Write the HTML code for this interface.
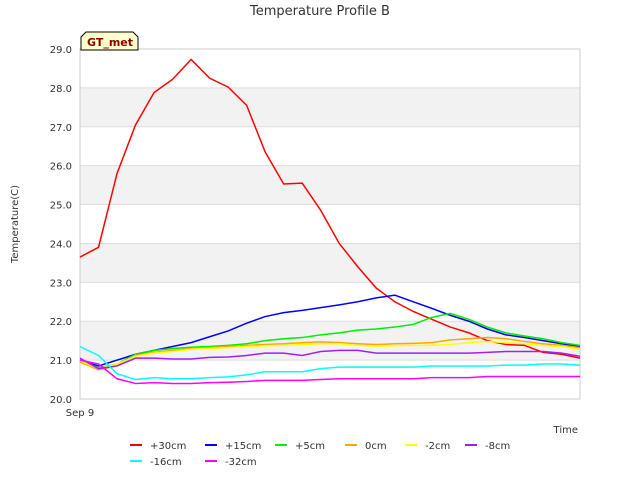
<!DOCTYPE html>
<html><head><meta charset="utf-8"><style>
body{margin:0;background:#fff;font-family:"Liberation Sans","DejaVu Sans",sans-serif;}
</style></head><body>
<svg width="640" height="480" xmlns="http://www.w3.org/2000/svg" font-family="DejaVu Sans, Liberation Sans, sans-serif">
<text x="320" y="15" text-anchor="middle" font-size="13" fill="#333">Temperature Profile B</text>
<g id="bands"></g><g id="grid"></g><g id="yticks"></g>
<rect x="80" y="49" width="500" height="350" fill="none" stroke="#ccc"/>
<g id="series"></g>
<text x="80" y="416" text-anchor="middle" font-size="10" fill="#333">Sep 9</text>
<text x="578" y="433" text-anchor="end" font-size="10" fill="#333">Time</text>
<text x="18" y="224" text-anchor="middle" font-size="10" fill="#333" transform="rotate(-90 18 224)">Temperature(C)</text>
<g><path d="M81,50 L81,37 L86,32 L133,32 L138,37 L138,50 Z" fill="#ffffcc" stroke="#000" stroke-width="1"/><text x="87" y="46" font-size="11" font-weight="bold" fill="#8b0000">GT_met</text></g>
<g id="legend"></g>
</svg>
<script>
const yTicks=[20,21,22,23,24,25,26,27,28,29];
const names=["+30cm","+15cm","+5cm","0cm","-2cm","-8cm","-16cm","-32cm"];
const colors=["#ff0000","#0000ff","#00ee00","#ffa500","#ffff00","#a020f0","#00ffff","#ff00ff"];
const s30=[23.65,23.9,25.8,27.05,27.88,28.22,28.73,28.25,28.02,27.55,26.35,25.53,25.55,24.85,24.0,23.4,22.85,22.5,22.25,22.05,21.85,21.7,21.5,21.4,21.38,21.2,21.15,21.05];
const s15=[21.0,20.85,21.0,21.15,21.25,21.35,21.45,21.6,21.75,21.95,22.12,22.22,22.28,22.35,22.42,22.5,22.6,22.67,22.5,22.33,22.15,22.0,21.8,21.65,21.58,21.5,21.42,21.35];
const s5=[21.0,20.8,20.9,21.15,21.25,21.3,21.33,21.35,21.38,21.42,21.5,21.55,21.58,21.65,21.7,21.77,21.8,21.85,21.92,22.1,22.2,22.05,21.85,21.7,21.62,21.55,21.45,21.38];
const s0=[20.95,20.75,20.85,21.12,21.2,21.25,21.3,21.32,21.35,21.38,21.4,21.42,21.45,21.47,21.45,21.42,21.4,21.42,21.43,21.45,21.52,21.55,21.58,21.55,21.48,21.42,21.38,21.32];
const sm2=[20.98,20.78,20.9,21.1,21.18,21.22,21.28,21.3,21.32,21.35,21.37,21.38,21.4,21.42,21.42,21.38,21.36,21.37,21.38,21.38,21.4,21.45,21.48,21.45,21.42,21.38,21.35,21.28];
const sm8=[21.05,20.78,20.85,21.05,21.05,21.03,21.03,21.07,21.08,21.12,21.18,21.18,21.12,21.22,21.25,21.25,21.18,21.18,21.18,21.18,21.18,21.18,21.2,21.22,21.22,21.22,21.18,21.1];
const sm16=[21.35,21.12,20.65,20.5,20.55,20.52,20.52,20.55,20.57,20.62,20.7,20.7,20.7,20.78,20.82,20.82,20.82,20.82,20.82,20.85,20.85,20.85,20.85,20.87,20.87,20.9,20.9,20.87];
const sm32=[21.0,20.9,20.52,20.4,20.42,20.4,20.4,20.42,20.43,20.45,20.48,20.48,20.48,20.5,20.52,20.52,20.52,20.52,20.52,20.55,20.55,20.55,20.58,20.58,20.58,20.58,20.58,20.58];
const series=[s30,s15,s5,s0,sm2,sm8,sm16,sm32];
const NS="http://www.w3.org/2000/svg";
const X0=80,X1=580,Y0=399,Y1=49,YMIN=20,YMAX=29;
const xs=i=>X0+(X1-X0)*i/(s30.length-1);
const ys=v=>Y0-(v-YMIN)/(YMAX-YMIN)*(Y0-Y1);
function mk(t,a,p){const e=document.createElementNS(NS,t);for(const k in a)e.setAttribute(k,a[k]);p.appendChild(e);return e;}
const bands=document.getElementById('bands'),grid=document.getElementById('grid'),yt=document.getElementById('yticks');
for(let i=0;i<yTicks.length-1;i++){if(i%2===1){const r=mk('rect',{x:X0,y:ys(yTicks[i+1]),width:X1-X0,height:ys(yTicks[i])-ys(yTicks[i+1]),fill:'#f2f2f2'},bands);

}}
yTicks.forEach(v=>{const l=mk('line',{x1:X0,x2:X1,y1:ys(v),y2:ys(v),stroke:'#ddd'},grid);


const t=mk('text',{x:X0-8,y:ys(v)+4,'text-anchor':'end','font-size':10,fill:'#333'},yt);t.textContent=v.toFixed(1);

});
const sg=document.getElementById('series');
series.forEach((d,k)=>{const p=mk('polyline',{points:d.map((v,i)=>xs(i)+','+ys(v)).join(' '),fill:'none',stroke:colors[k],'stroke-width':1.5},sg);

});
const lg=document.getElementById('legend');
const pos=[[130,445],[205,445],[275,445],[345,445],[405,445],[465,445],[130,461],[205,461]];
names.forEach((n,k)=>{const g=mk('g',{},lg);


const [x,y]=pos[k];mk('line',{x1:x,x2:x+12,y1:y,y2:y,stroke:colors[k],'stroke-width':2},g);
const t=mk('text',{x:x+20,y:y+4,'font-size':10,fill:'#333'},g);t.textContent=n;});
</script>
</body></html>
